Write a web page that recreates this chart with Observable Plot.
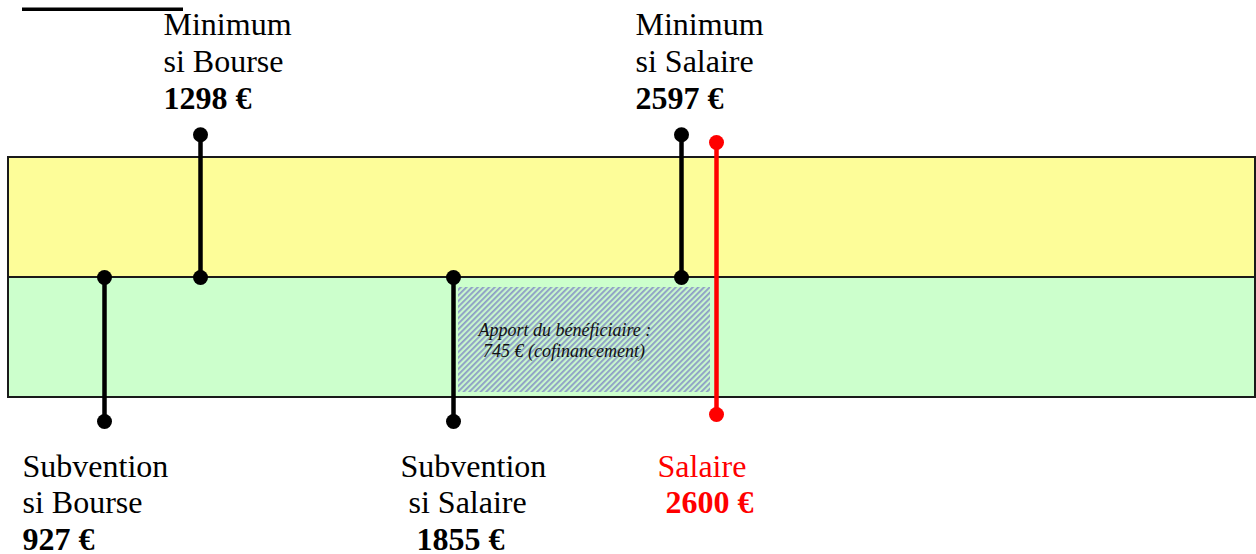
<!DOCTYPE html>
<html>
<head>
<meta charset="utf-8">
<script src="https://cdn.jsdelivr.net/npm/d3@7"></script>
<script src="https://cdn.jsdelivr.net/npm/@observablehq/plot@0.6"></script>
<style>
  html, body { margin: 0; padding: 0; background: #ffffff; }
  #chart svg { display: block; }
</style>
</head>
<body>
<div id="chart"></div>
<script>
// ---- Data ----
const categories   = ["Subvention si Bourse", "Minimum si Bourse", "Subvention si Salaire", "Minimum si Salaire", "Salaire"];
const nameLine1    = ["Subvention", "Minimum", "Subvention", "Minimum", "Salaire"];
const nameLine2    = ["si Bourse", "si Bourse", "\u00a0si Salaire", "si Salaire", ""];
const amounts      = [927, 1298, 1855, 2597, 2600];
const amountLabels = ["927 €", "1298 €", "\u00a0\u00a01855 €", "2597 €", "\u00a02600 €"];
const sides        = ["below", "above", "below", "above", "salary"];
const apportStart  = 1855;
const apportEnd    = 2600;
const apportLines  = ["Apport du bénéficiaire :", "\u00a0745 € (cofinancement)"];
const bandLevels   = [0, 1, 2];   // bottom (green) band 0–1, top (yellow) band 1–2

// ---- Build table ----
const rows = categories.map((c, i) => ({
  category: c, l1: nameLine1[i], l2: nameLine2[i], amount: amounts[i],
  amountLabel: amountLabels[i], side: sides[i]
}));
const bands = [
  {y1: bandLevels[0], y2: bandLevels[1], fill: "#ccffcc"},
  {y1: bandLevels[1], y2: bandLevels[2], fill: "#fdfd99"}
];

// schematic (non-proportional) horizontal layout: piecewise-linear scale
const xRange = [104, 200, 453, 681, 716];
const labelDx = {"Subvention si Bourse": -82, "Minimum si Bourse": -37, "Subvention si Salaire": -53, "Minimum si Salaire": -46, "Salaire": -59};

const above = rows.filter(d => d.side === "above");
const below = rows.filter(d => d.side === "below");
const salary = rows.filter(d => d.side === "salary");

const stemTop = 2.19, stemBottom = -0.2;        // stem extents in band units
const redTop = 2.125, redBottom = -0.142;
const serif = "Liberation Serif, Times New Roman, serif";

const labelMarks = [];
for (const d of rows) {
  const isAbove = d.side === "above";
  const isRed = d.side === "salary";
  const anchorY = isAbove ? stemTop : stemBottom;
  const base = isAbove ? -100 : 55;
  const step = isAbove ? 37 : 36.5;
  const lines = isRed
    ? [{t: d.l1, w: "normal"}, {t: d.amountLabel, w: "bold"}]
    : [{t: d.l1, w: "normal"}, {t: d.l2, w: "normal"}, {t: d.amountLabel, w: "bold"}];
  lines.forEach((ln, i) => {
    labelMarks.push(Plot.text([d], {
      x: "amount", y: () => anchorY, text: () => ln.t,
      dx: labelDx[d.category], dy: base + i * step,
      textAnchor: "start", lineAnchor: "bottom",
      fontFamily: serif, fontSize: 32, fontWeight: ln.w,
      fill: isRed ? "#ff0000" : "#000000"
    }));
  });
}

const apportMarks = apportLines.map((t, i) => Plot.text([{x: apportStart, t}], {
  x: "x", y: () => bandLevels[1], text: "t",
  dx: 25, dy: 58 + i * 21, textAnchor: "start", lineAnchor: "bottom",
  fontFamily: serif, fontSize: 18, fontStyle: "italic", fill: "#111"
}));

const chart = Plot.plot({
  width: 1256,
  height: 554,
  marginLeft: 8,
  marginRight: 1,
  marginTop: 0,
  marginBottom: 0,
  style: {background: "#ffffff", overflow: "visible"},
  x: {type: "linear", domain: amounts, range: xRange, axis: null},
  y: {domain: [bandLevels[0], bandLevels[2]], range: [397, 157], axis: null},
  marks: [
    // cut-off title underline at top-left
    Plot.ruleY([3.235], {stroke: "#000", strokeWidth: 3.5, insetLeft: 14, insetRight: 1072}),
    // bands
    Plot.rect(bands, {y1: "y1", y2: "y2", fill: "fill", stroke: "#1a1a1a", strokeWidth: 2}),
    // co-financing hatched area
    Plot.rect([{x1: apportStart, x2: apportEnd}], {
      x1: "x1", x2: "x2", y1: () => bandLevels[0], y2: () => bandLevels[1],
      insetLeft: 5, insetRight: 6, insetTop: 10, insetBottom: 5,
      fill: "url(#hatch)"
    }),
    ...apportMarks,
    // stems
    Plot.ruleX(above, {x: "amount", y1: () => bandLevels[1], y2: () => stemTop, stroke: "#000", strokeWidth: 4.5}),
    Plot.ruleX(below, {x: "amount", y1: () => bandLevels[1], y2: () => stemBottom, stroke: "#000", strokeWidth: 4.5}),
    Plot.ruleX(salary, {x: "amount", y1: () => redBottom, y2: () => redTop, stroke: "#ff0000", strokeWidth: 4.5}),
    // dots
    Plot.dot(above, {x: "amount", y: () => stemTop, r: 7.5, fill: "#000"}),
    Plot.dot(below, {x: "amount", y: () => stemBottom, r: 7.5, fill: "#000"}),
    Plot.dot([...above, ...below], {x: "amount", y: () => bandLevels[1], r: 7.5, fill: "#000"}),
    Plot.dot(salary, {x: "amount", y: () => redTop, r: 7.5, fill: "#ff0000"}),
    Plot.dot(salary, {x: "amount", y: () => redBottom, r: 7.5, fill: "#ff0000"}),
    ...labelMarks
  ]
});

// hatch pattern definition
const NS = "http://www.w3.org/2000/svg";
const defs = document.createElementNS(NS, "defs");
const pat = document.createElementNS(NS, "pattern");
pat.setAttribute("id", "hatch");
pat.setAttribute("patternUnits", "userSpaceOnUse");
pat.setAttribute("width", "4");
pat.setAttribute("height", "4");
pat.setAttribute("patternTransform", "rotate(45)");
const bg = document.createElementNS(NS, "rect");
bg.setAttribute("width", "4"); bg.setAttribute("height", "4"); bg.setAttribute("fill", "#c8f7cc");
const stripe = document.createElementNS(NS, "rect");
stripe.setAttribute("width", "1.8"); stripe.setAttribute("height", "4"); stripe.setAttribute("fill", "#8d9cc6");
pat.appendChild(bg); pat.appendChild(stripe);
defs.appendChild(pat);
chart.insertBefore(defs, chart.firstChild);

document.getElementById("chart").appendChild(chart);
</script>
</body>
</html>
